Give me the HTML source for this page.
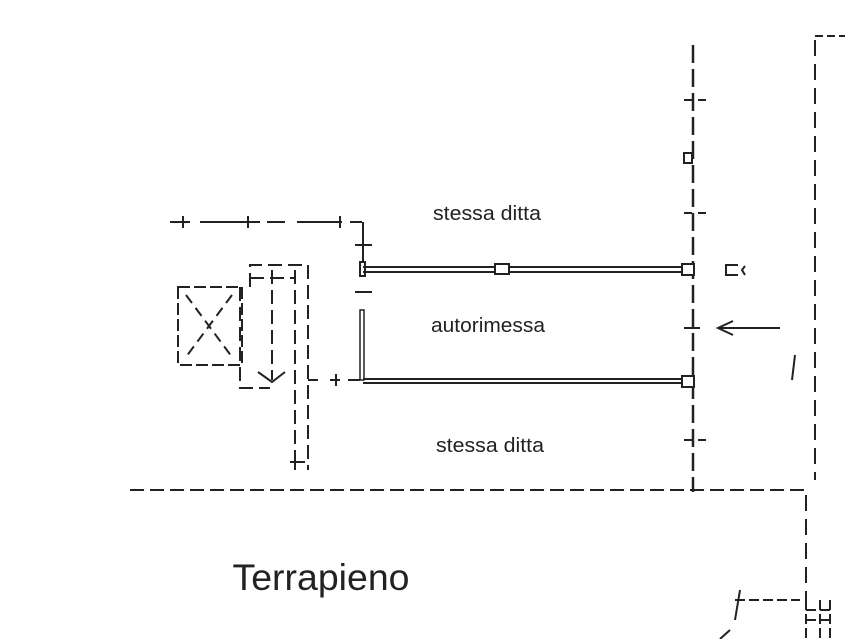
<!DOCTYPE html>
<html><head><style>body{margin:0;background:#fff}svg{display:block}</style></head>
<body>
<svg width="851" height="639" viewBox="0 0 851 639" xmlns="http://www.w3.org/2000/svg">
<rect width="851" height="639" fill="#fff"/>
<g stroke="#222" stroke-width="2" fill="none">
<line x1="130" y1="490" x2="806" y2="490" stroke-dasharray="14,6"/>
<line x1="693" y1="45" x2="693" y2="492" stroke-dasharray="18,6" stroke-width="2.5"/>
<line x1="684" y1="100" x2="712" y2="100" stroke-dasharray="8,6"/>
<line x1="684" y1="213" x2="712" y2="213" stroke-dasharray="8,6"/>
<line x1="684" y1="440" x2="712" y2="440" stroke-dasharray="8,6"/>
<line x1="684" y1="328" x2="700" y2="328"/>
<rect x="684" y="153" width="8" height="10" fill="#fff"/>
<line x1="815" y1="40" x2="815" y2="480" stroke-dasharray="16,8"/>
<line x1="806" y1="495" x2="806" y2="600" stroke-dasharray="16,8"/>
<line x1="815" y1="36" x2="845" y2="36" stroke-dasharray="8,4"/>
<line x1="795" y1="355" x2="792" y2="380"/>
<line x1="363" y1="267" x2="690" y2="267"/>
<line x1="363" y1="272" x2="690" y2="272"/>
<line x1="363" y1="379" x2="690" y2="379"/>
<line x1="363" y1="383" x2="690" y2="383"/>
<rect x="495" y="264" width="14" height="10" fill="#fff"/>
<rect x="682" y="264" width="12" height="11" fill="#fff"/>
<rect x="682" y="376" width="12" height="11" fill="#fff"/>
<line x1="363" y1="222" x2="363" y2="262"/>
<line x1="355" y1="245" x2="372" y2="245"/>
<line x1="355" y1="292" x2="372" y2="292"/>
<rect x="360" y="262" width="5" height="14"/>
<rect x="360" y="310" width="4" height="70" stroke-width="1.5"/>
<line x1="720" y1="328" x2="780" y2="328"/>
<path d="M733 321 L718 328 L733 335"/>
<path d="M738 265 L726 265 L726 275 L738 275 M745 266 L742 270 L745 275"/>
<path d="M170 222 L190 222 M200 222 L235 222 L260 222 M267 222 L285 222 M297 222 L325 222 L342 222 M183 216 L183 228 M248 216 L248 228 M340 216 L340 228 M350 222 L362 222"/>
<rect x="178" y="287" width="64" height="78" stroke-dasharray="12,4"/>
<line x1="186" y1="295" x2="232" y2="357" stroke-dasharray="10,6"/>
<line x1="232" y1="295" x2="186" y2="357" stroke-dasharray="10,6"/>
<path d="M240 287 L240 388 L270 388 M250 287 L250 265 L308 265 L308 470 M250 278 L295 278 M272 270 L272 380 M295 270 L295 470" stroke-dasharray="14,6"/>
<path d="M258 372 L272 382 L285 372"/>
<path d="M308 380 L318 380 M330 380 L340 380 M336 374 L336 386 M348 380 L360 380"/>
<path d="M295 458 L295 470 M290 462 L305 462"/>
<path d="M735 600 L800 600 M806 600 L806 639 M820 600 L820 639 M830 600 L830 639 M806 610 L830 610 M806 620 L830 620" stroke-dasharray="10,4"/>
<path d="M740 590 L735 620 M720 639 L730 630"/>
</g>
<g font-family="Liberation Sans, sans-serif" fill="#222" text-anchor="middle">
<text x="487" y="220" font-size="20" textLength="108" lengthAdjust="spacingAndGlyphs">stessa ditta</text>
<text x="488" y="332" font-size="20" textLength="114" lengthAdjust="spacingAndGlyphs">autorimessa</text>
<text x="490" y="452" font-size="20" textLength="108" lengthAdjust="spacingAndGlyphs">stessa ditta</text>
<text x="321" y="590" font-size="37" textLength="177" lengthAdjust="spacingAndGlyphs">Terrapieno</text>
</g>
</svg>
</body></html>
